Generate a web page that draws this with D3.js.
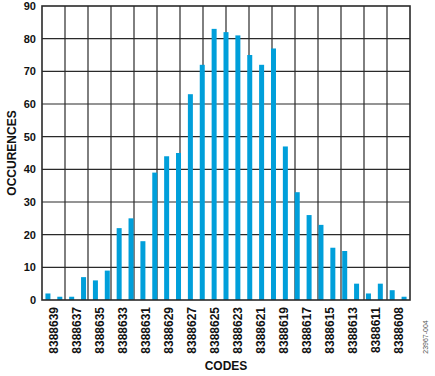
<!DOCTYPE html>
<html>
<head>
<meta charset="utf-8">
<script src="https://cdn.jsdelivr.net/npm/d3@7"></script>
<style>
  html, body { margin: 0; padding: 0; background: #fff; }
  svg text { font-family: "Liberation Sans", Arial, sans-serif; }
</style>
</head>
<body>
<div id="chart"></div>
<script>
// code histogram
const codes = [
  8388639, 8388638, 8388637, 8388636, 8388635, 8388634, 8388633, 8388632,
  8388631, 8388630, 8388629, 8388628, 8388627, 8388626, 8388625, 8388624,
  8388623, 8388622, 8388621, 8388620, 8388619, 8388618, 8388617, 8388616,
  8388615, 8388614, 8388613, 8388612, 8388611, 8388610, 8388609
];
const counts = [
  2, 1, 1, 7, 6, 9, 22, 25,
  18, 39, 44, 45, 63, 72, 83, 82,
  81, 75, 72, 77, 47, 33, 26, 23,
  16, 15, 5, 2, 5, 3, 1
];
const tickLabels = [
  '8388639', '8388637', '8388635', '8388633', '8388631', '8388629', '8388627', '8388625',
  '8388623', '8388621', '8388619', '8388617', '8388615', '8388613', '8388611', '8388608'
];
const yTicks = [0, 10, 20, 30, 40, 50, 60, 70, 80, 90];

const W = 435, H = 376;
const m = { left: 42, right: 25, top: 6, bottom: 76 };
const x0 = m.left, x1 = W - m.right, y0 = H - m.bottom, y1 = m.top;

const svg = d3.select('#chart').append('svg')
  .attr('width', W).attr('height', H);

const x = d3.scaleBand().domain(codes).range([x0, x1]);
const xCol = d3.scaleBand().domain(tickLabels).range([x0, x1]);
const y = d3.scaleLinear().domain([0, 90]).range([y0, y1]);

const gridColor = '#2a2a2a';

// horizontal grid
svg.append('g').selectAll('line')
  .data(yTicks.slice(1, -1))
  .enter().append('line')
  .attr('x1', x0).attr('x2', x1)
  .attr('y1', d => y(d)).attr('y2', d => y(d))
  .attr('stroke', gridColor).attr('stroke-width', 1.2);

// vertical grid (column boundaries)
svg.append('g').selectAll('line')
  .data(tickLabels.slice(1))
  .enter().append('line')
  .attr('x1', d => xCol(d)).attr('x2', d => xCol(d))
  .attr('y1', y0).attr('y2', y1)
  .attr('stroke', gridColor).attr('stroke-width', 1.2);

// bars
const bw = 5;
svg.append('g').selectAll('rect')
  .data(codes.map((c, i) => ({ code: c, n: counts[i] })))
  .enter().append('rect')
  .attr('x', d => x(d.code) + x.bandwidth() / 2 - bw / 2)
  .attr('width', bw)
  .attr('y', d => y(d.n))
  .attr('height', d => y0 - y(d.n))
  .attr('fill', '#009fda');

// frame
svg.append('rect')
  .attr('x', x0).attr('y', y1)
  .attr('width', x1 - x0).attr('height', y0 - y1)
  .attr('fill', 'none')
  .attr('stroke', gridColor).attr('stroke-width', 1.6);

// y axis
const yAxis = svg.append('g')
  .attr('transform', `translate(${x0},0)`)
  .call(d3.axisLeft(y).tickValues(yTicks).tickSize(0).tickPadding(6));
yAxis.select('.domain').remove();
yAxis.selectAll('text')
  .attr('font-size', '11px').attr('font-weight', 'bold')
  .attr('fill', '#111')
  .style('font-family', '"Liberation Sans", Arial, sans-serif');

// x axis labels
const xAxis = svg.append('g')
  .attr('transform', `translate(0,${y0})`)
  .call(d3.axisBottom(xCol).tickSize(0).tickPadding(0));
xAxis.select('.domain').remove();
xAxis.selectAll('text')
  .attr('transform', 'rotate(-90)')
  .attr('x', -7).attr('y', 0).attr('dy', '0.35em')
  .attr('text-anchor', 'end')
  .attr('font-size', '12px').attr('font-weight', 'bold')
  .attr('fill', '#111')
  .style('font-family', '"Liberation Sans", Arial, sans-serif');

// titles
svg.append('text')
  .attr('x', (x0 + x1) / 2).attr('y', 370)
  .attr('text-anchor', 'middle')
  .attr('font-size', '12px').attr('font-weight', 'bold')
  .attr('fill', '#111')
  .text('CODES');

svg.append('text')
  .attr('transform', `translate(16,${(y0 + y1) / 2}) rotate(-90)`)
  .attr('text-anchor', 'middle')
  .attr('font-size', '12px').attr('font-weight', 'bold')
  .attr('fill', '#111')
  .text('OCCURENCES');

svg.append('text')
  .attr('transform', 'translate(428,337) rotate(-90)')
  .attr('text-anchor', 'middle')
  .attr('font-size', '7px')
  .attr('fill', '#555')
  .text('23967-004');
</script>
</body>
</html>
